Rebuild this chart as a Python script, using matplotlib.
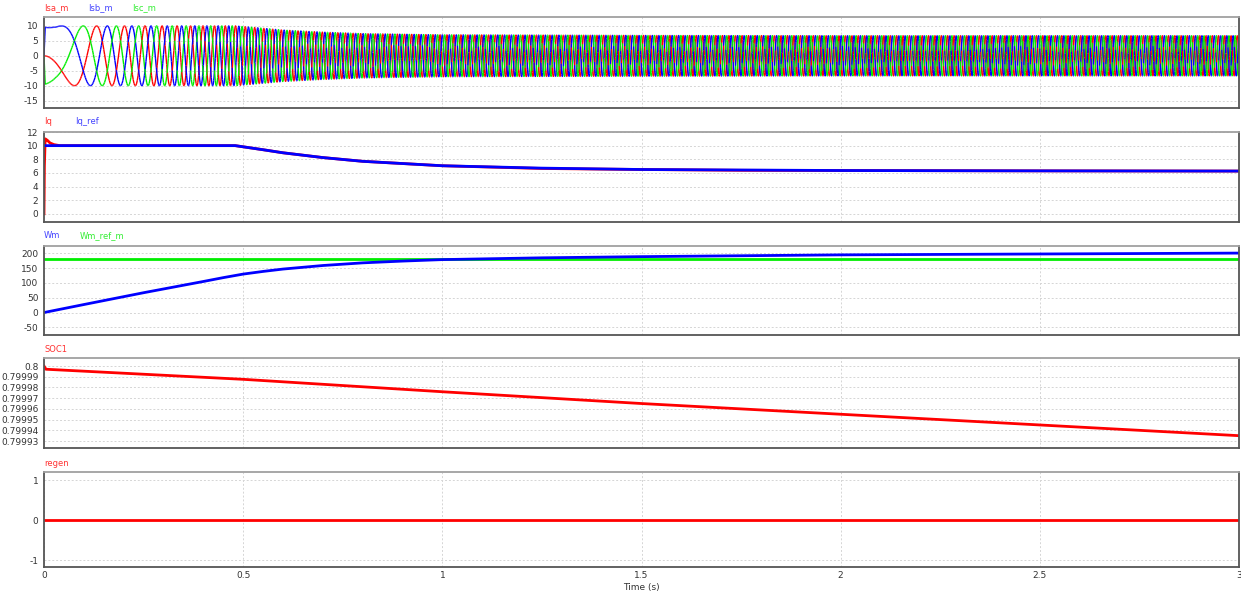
import numpy as np
import matplotlib.pyplot as plt
from matplotlib.collections import LineCollection

# speed (rad/s) and torque-current reference read at a few instants
t_wm = [0, 0.1, 0.25, 0.4, 0.45, 0.5, 0.55, 0.6, 0.7, 0.8, 0.9, 1.0, 1.25, 1.5, 2.0, 2.5, 3.0]
wm = [0, 27, 67, 105, 118, 130, 139, 147, 159, 168, 174, 179, 185, 189, 195, 198, 201]
wm_ref = 180

t_iqref = [0, 0.48, 0.55, 0.6, 0.7, 0.8, 1.0, 1.25, 1.5, 2.0, 2.5, 3.0]
iq_ref = [10, 10, 9.4, 8.95, 8.25, 7.7, 7.05, 6.7, 6.5, 6.35, 6.3, 6.27]

t_iq = [0, 0.001, 0.003, 0.008, 0.015, 0.025, 0.04, 0.48, 0.55, 0.6, 0.7, 0.8, 1.0,
        1.25, 1.5, 1.75, 2.0, 2.5, 3.0]
iq = [0, 7.0, 11.0, 10.8, 10.4, 10.15, 10.0, 10.0, 9.4, 8.95, 8.25, 7.7, 7.05,
      6.65, 6.5, 6.38, 6.35, 6.3, 6.27]

# phase current envelope
t_amp = [0, 0.003, 0.03, 0.48, 0.55, 0.6, 0.7, 0.8, 1.0, 1.5, 2.0, 3.0]
amp = [0, 11, 10, 10, 9.2, 8.6, 7.9, 7.4, 7.0, 6.8, 6.7, 6.7]
pole_pairs = 2

t_soc = [0, 0.005, 0.5, 1.0, 1.5, 2.0, 2.5, 3.0]
soc = [0.8, 0.799997, 0.7999876, 0.799976, 0.799965, 0.799955, 0.799945, 0.799935]

t_regen = [0, 3]
regen = [0, 0]

# phase currents from the electrical angle
t = np.linspace(0, 3, 60001)
w = np.interp(t, t_wm, wm)
theta = pole_pairs * np.concatenate([[0], np.cumsum((w[1:] + w[:-1]) / 2 * np.diff(t))])
a = np.interp(t, t_amp, amp)
isa = -a * np.sin(theta)
isb = -a * np.sin(theta - 2 * np.pi / 3)
isc = -a * np.sin(theta + 2 * np.pi / 3)

RED = '#ff0000'
BLUE = '#0000ff'
GREEN = '#00ee00'
W, H = 1241, 593
plt.rcParams['font.family'] = 'DejaVu Sans'
plt.rcParams['axes.unicode_minus'] = False
fig = plt.figure(figsize=(W / 100, H / 100), dpi=100)


def panel(top, bottom):
    ax = fig.add_axes([44 / W, 1 - bottom / H, (1239 - 44) / W, (bottom - top) / H])
    ax.set_xlim(0, 3)
    ax.set_xticks([0, 0.5, 1, 1.5, 2, 2.5, 3])
    ax.tick_params(length=0, labelsize=6.5, colors='#333333', pad=4)
    ax.tick_params(axis='x', labelbottom=False)
    ax.grid(True, color='#d5d5d5', linestyle=(0, (2, 2)), linewidth=0.7)
    for s in ['left', 'bottom', 'right']:
        ax.spines[s].set_color('#555555')
        ax.spines[s].set_linewidth(1.3)
    ax.spines['top'].set_color('#a0a0a0')
    ax.spines['top'].set_linewidth(1.3)
    return ax


def label(x, y, text, color):
    fig.text(x / W, 1 - y / H, text, color=color, fontsize=6, va='center', ha='left')


def pieces(y, n=40):
    # split a trace into short overlapping polylines
    out = []
    for i in range(0, len(t) - 1, n):
        out.append(np.column_stack([t[i:i + n + 1], y[i:i + n + 1]]))
    return out


ax1 = panel(17, 108)
# interleave the three phases in time so no colour sits on top of the others
pa, pb, pc = pieces(isa), pieces(isb), pieces(isc)
segs, cols = [], []
for sa, sb, sc in zip(pa, pb, pc):
    segs += [sa, sb, sc]
    cols += [RED, BLUE, GREEN]
ax1.add_collection(LineCollection(segs, colors=cols, linewidths=1.0))
ax1.set_ylim(-17.5, 13)
ax1.set_yticks([-15, -10, -5, 0, 5, 10])
label(44, 8, 'Isa_m', '#ff3333')
label(88, 8, 'Isb_m', '#4444ff')
label(132, 8, 'Isc_m', '#33ee33')

ax2 = panel(132, 222)
ax2.plot(t_iq, iq, color=RED, lw=2)
ax2.plot(t_iqref, iq_ref, color=BLUE, lw=2)
ax2.set_ylim(-1.2, 12)
ax2.set_yticks([0, 2, 4, 6, 8, 10, 12])
label(44, 122, 'Iq', '#ff3333')
label(75, 122, 'Iq_ref', '#4444ff')

ax3 = panel(246, 335)
ax3.plot([0, 3], [wm_ref, wm_ref], color=GREEN, lw=2)
ax3.plot(t_wm, wm, color=BLUE, lw=2)
ax3.set_ylim(-76, 225)
ax3.set_yticks([-50, 0, 50, 100, 150, 200])
label(44, 236, 'Wm', '#4444ff')
label(80, 236, 'Wm_ref_m', '#33ee33')

ax4 = panel(358, 448)
ax4.plot(t_soc, soc, color=RED, lw=2)
ax4.set_ylim(0.7999235, 0.8000075)
soc_ticks = [0.79993, 0.79994, 0.79995, 0.79996, 0.79997, 0.79998, 0.79999, 0.8]
ax4.set_yticks(soc_ticks)
ax4.set_yticklabels(['0.79993', '0.79994', '0.79995', '0.79996', '0.79997',
                     '0.79998', '0.79999', '0.8'])
label(44, 349, 'SOC1', '#ff3333')

ax5 = panel(472, 567)
ax5.plot(t_regen, regen, color=RED, lw=2)
ax5.set_ylim(-1.175, 1.2)
ax5.set_yticks([-1, 0, 1])
ax5.tick_params(axis='x', labelbottom=True, pad=3)
ax5.set_xticklabels(['0', '0.5', '1', '1.5', '2', '2.5', '3'])
ax5.set_xlabel('Time (s)', fontsize=6.5, color='#333333', labelpad=2)
label(44, 463, 'regen', '#ff3333')

fig.savefig('out.png', dpi=100)
